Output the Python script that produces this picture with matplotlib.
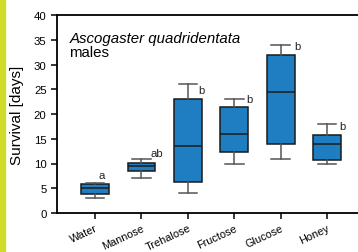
import matplotlib

matplotlib.use("Agg")
import matplotlib.pyplot as plt
from matplotlib.patches import Rectangle

plt.rcParams["font.family"] = ["Liberation Sans", "DejaVu Sans"]

# box statistics (days)
categories = ["Water", "Mannose", "Trehalose", "Fructose", "Glucose", "Honey"]
whislo = [3, 7, 4, 10, 11, 10]
q1 = [3.9, 8.4, 6.2, 12.4, 14, 10.7]
med = [5.0, 9.4, 13.5, 16, 24.5, 14]
q3 = [5.9, 10.2, 23, 21.5, 32, 15.7]
whishi = [6, 11, 26, 23, 34, 18]
letters = ["a", "ab", "b", "b", "b", "b"]

BLUE = "#1f7dc1"
WHISK = "#555555"

fig = plt.figure(figsize=(3.58, 2.53), dpi=100)
ax = fig.add_axes([57 / 358, 39 / 253, 1 - 57 / 358 + 0.02, 198 / 253])

stats = [
    {"whislo": lo, "q1": a, "med": m, "q3": b, "whishi": hi, "fliers": [], "label": c}
    for c, lo, a, m, b, hi in zip(categories, whislo, q1, med, q3, whishi)
]
ax.bxp(stats, positions=range(len(stats)), widths=0.6, patch_artist=True,
       boxprops=dict(facecolor=BLUE, edgecolor="#1a1a1a", lw=1.1),
       medianprops=dict(color="#1a1a1a", lw=1.1),
       whiskerprops=dict(color=WHISK, lw=1.1),
       capprops=dict(color=WHISK, lw=1.1), capwidths=0.4)

# significance letters: offsets (x, y) from the upper whisker end
offsets = [(0.15, 1.7), (0.33, 1.2), (0.3, -1.1), (0.33, 0.1), (0.37, -0.3), (0.32, -0.4)]
for i, (hi, lab) in enumerate(zip(whishi, letters)):
    dx, dy = offsets[i]
    ax.text(i + dx, hi + dy, lab, fontsize=8.2, ha="center", va="center", color="#222222")

ax.set_xlim(-0.82, 5.82)
ax.set_ylim(0, 40)
ax.set_yticks(range(0, 41, 5))
ax.set_xticks(range(len(categories)))
ax.set_xticklabels(categories, rotation=25, ha="right", rotation_mode="anchor", fontsize=7.8)
ax.tick_params(axis="y", labelsize=8.2, length=4, width=1.1, pad=3.5)
ax.tick_params(axis="x", length=4, width=1.1, pad=3)
for s in ["left", "top", "bottom"]:
    ax.spines[s].set_linewidth(1.3)
ax.spines["right"].set_visible(False)
ax.set_ylabel("Survival [days]", fontsize=11, labelpad=7)

ax.text(0.04, 0.885, "Ascogaster quadridentata", transform=ax.transAxes,
        fontsize=10.8, style="italic", va="center")
ax.text(0.04, 0.815, "males", transform=ax.transAxes, fontsize=10.8, va="center")

# yellow strip on the left edge
fig.patches.append(Rectangle((0, 0), 5 / 358, 1, transform=fig.transFigure,
                             color="#cfdc2a", zorder=0))

fig.savefig("out.png", dpi=100)
